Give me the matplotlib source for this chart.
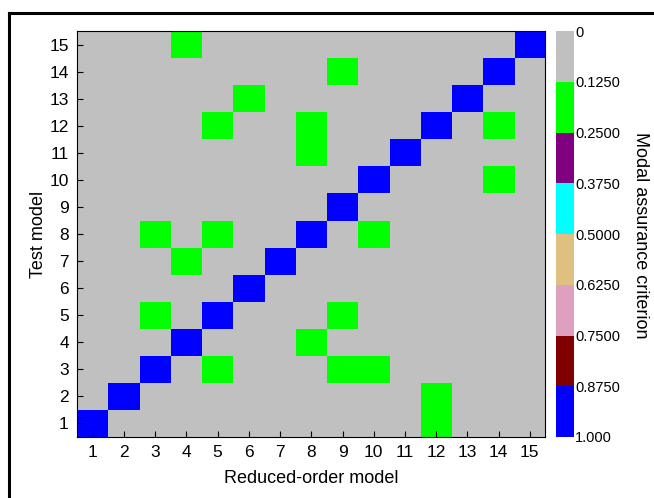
import numpy as np
import matplotlib
matplotlib.use("Agg")
from matplotlib import pyplot as plt
from matplotlib.colors import ListedColormap, BoundaryNorm
from matplotlib.lines import Line2D

plt.rcParams["font.family"] = ["Liberation Sans", "DejaVu Sans"]

n_modes = 15
modes = list(range(1, n_modes + 1))

# MAC values
diag_value = 1.0
background_value = 0.05
green_value = 0.2
# (test model row, reduced-order model column) of green cells
green_rows = [15, 14, 13, 12, 12, 12, 11, 10, 8, 8, 8, 7, 5, 5, 4, 3, 3, 3, 2, 1]
green_cols = [4, 9, 6, 5, 8, 14, 8, 14, 3, 5, 10, 4, 3, 9, 8, 5, 9, 10, 12, 12]

bounds = [0, 0.125, 0.25, 0.375, 0.5, 0.625, 0.75, 0.875, 1.0]
bound_labels = ["0", "0.1250", "0.2500", "0.3750", "0.5000",
                "0.6250", "0.7500", "0.8750", "1.000"]
colors = ["#c0c0c0", "#00ff00", "#800080", "#00ffff",
          "#dfc080", "#dfa0c0", "#800000", "#0000ff"]

mac = np.full((n_modes, n_modes), background_value)
for m in modes:
    mac[m - 1, m - 1] = diag_value
for r, c in zip(green_rows, green_cols):
    mac[r - 1, c - 1] = green_value

cmap = ListedColormap(colors)
norm = BoundaryNorm(bounds, cmap.N)

fig = plt.figure(figsize=(6.54, 4.98), dpi=100)
ax = fig.add_axes([0.118, 0.1225, 0.716, 0.815])
im = ax.imshow(mac, cmap=cmap, norm=norm, origin="lower",
               extent=[0.5, n_modes + 0.5, 0.5, n_modes + 0.5], aspect="auto",
               interpolation="nearest")

ax.set_xticks(modes)
ax.set_yticks(modes)
ax.tick_params(direction="in", length=4, labelsize=12.5, pad=6, width=0.8)
ax.set_xlabel("Reduced-order model", fontsize=13, labelpad=7)
ax.set_ylabel("Test model", fontsize=13, labelpad=2)
for s in ax.spines.values():
    s.set_linewidth(0.8)

cax = fig.add_axes([0.850, 0.1225, 0.0275, 0.815])
cb = fig.colorbar(im, cax=cax, boundaries=bounds, ticks=bounds)
cb.ax.invert_yaxis()
cb.ax.set_yticklabels(bound_labels)
cb.ax.tick_params(length=0, labelsize=10.5, pad=1)
cb.outline.set_visible(False)
fig.text(641 / 654, 0.528, "Modal assurance criterion", fontsize=13,
         rotation=-90, ha="center", va="center")

# frame around the figure (top and left only)
fig.add_artist(Line2D([0.0145, 0.0145], [0.0, 0.973], transform=fig.transFigure,
                      color="black", linewidth=2.2))
fig.add_artist(Line2D([0.0145, 1.0], [0.973, 0.973], transform=fig.transFigure,
                      color="black", linewidth=2.2))

fig.savefig("out.png", dpi=100)
